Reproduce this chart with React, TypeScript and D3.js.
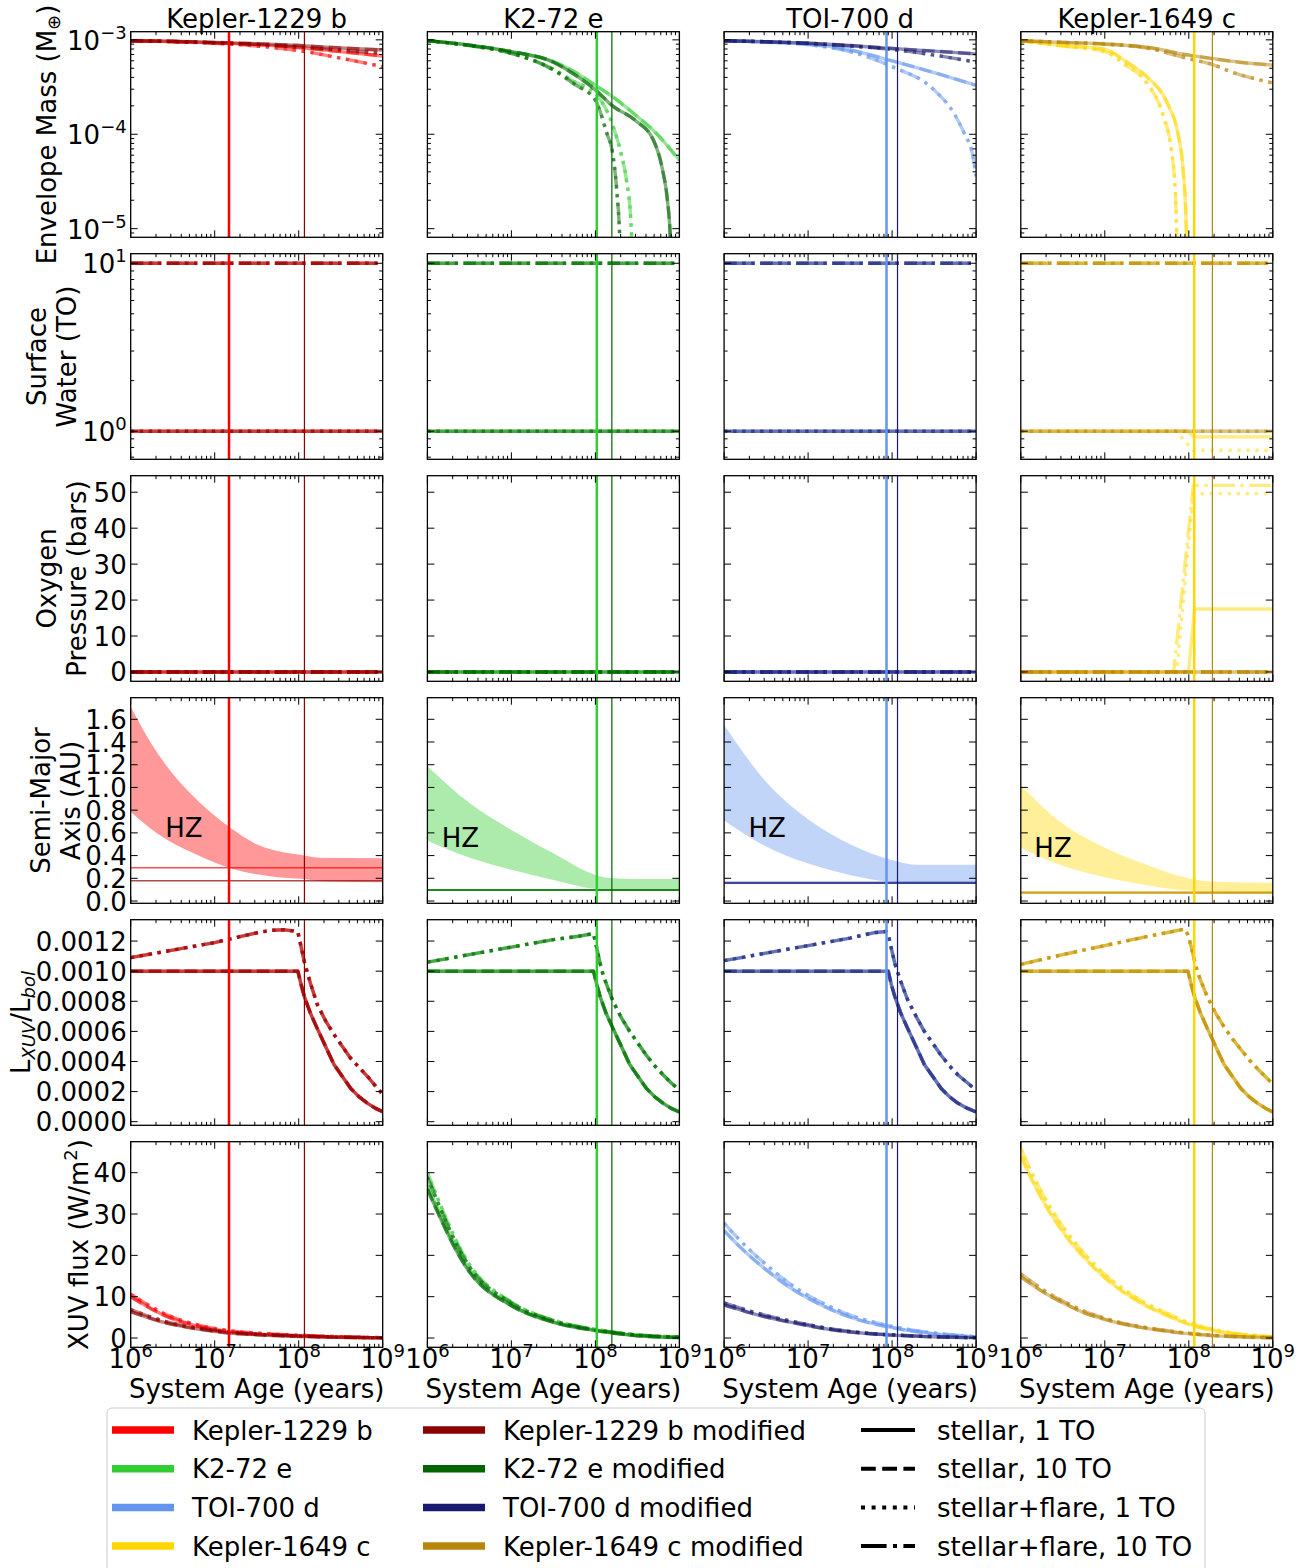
import * as d3 from "d3";

type Pt = [number, number];
type Run = { m: number; runs: number[]; pts: Pt[] };

const W = 1307;
const H = 1568;
const FONT = "DejaVu Sans, sans-serif";

// planets, colours (original / modified) and the four model runs
const planets = ["Kepler-1229 b", "K2-72 e", "TOI-700 d", "Kepler-1649 c"];
const baseColors = ["#ff0000", "#32cd32", "#6495ed", "#ffd700"];
const modColors = ["#8b0000", "#006400", "#191970", "#b8860b"];
const runLabels = ["stellar, 1 TO", "stellar, 10 TO", "stellar+flare, 1 TO", "stellar+flare, 10 TO"];

// vertical marker ages [original, modified] (years)
const markerAges: Pt[] = [[1.48e7, 1.17e8], [1.04e8, 1.57e8], [8.58e7, 1.16e8], [1.16e8, 1.91e8]];

// ---- envelope mass (M_earth) ----
const envK1229: Run[] = [
  { m: 0, runs: [0, 1], pts: [[1e6, 9.8e-4], [3.16e6, 9.6e-4], [1e7, 9.3e-4], [3.16e7, 8.9e-4], [1e8, 8.3e-4], [3.16e8, 7.5e-4], [1e9, 6.75e-4]] },
  { m: 0, runs: [2, 3], pts: [[1e6, 9.8e-4], [3.16e6, 9.55e-4], [1e7, 9.2e-4], [3.16e7, 8.6e-4], [1e8, 7.7e-4], [3.16e8, 6.4e-4], [1e9, 5.2e-4]] },
  { m: 1, runs: [0, 1], pts: [[1e6, 9.8e-4], [3.16e6, 9.65e-4], [1e7, 9.4e-4], [3.16e7, 9.1e-4], [1e8, 8.7e-4], [3.16e8, 8.2e-4], [1e9, 7.8e-4]] },
  { m: 1, runs: [2, 3], pts: [[1e6, 9.8e-4], [3.16e6, 9.6e-4], [1e7, 9.3e-4], [3.16e7, 8.95e-4], [1e8, 8.4e-4], [3.16e8, 7.8e-4], [1e9, 7.2e-4]] },
];
const envK272: Run[] = [
  { m: 0, runs: [0, 1], pts: [[1e6, 9.8e-4], [3.16e6, 8.8e-4], [1e7, 7.5e-4], [3.16e7, 5.9e-4], [5.6e7, 4.6e-4], [1e8, 3.3e-4], [1.6e8, 2.5e-4], [3e8, 1.6e-4], [5e8, 1.08e-4], [1e9, 5.3e-5]] },
  { m: 0, runs: [2, 3], pts: [[1e6, 9.8e-4], [3.16e6, 8.7e-4], [1e7, 7.2e-4], [3.16e7, 4.9e-4], [5.6e7, 3.6e-4], [1e8, 2.7e-4], [1.58e8, 1.3e-4], [2e8, 6.5e-5], [2.34e8, 3.3e-5], [2.63e8, 1.3e-5], [2.8e8, 4e-6]] },
  { m: 1, runs: [0, 1], pts: [[1e6, 9.8e-4], [3.16e6, 8.8e-4], [1e7, 7.5e-4], [3.16e7, 5.8e-4], [5.6e7, 4.3e-4], [1e8, 2.95e-4], [1.6e8, 2.0e-4], [3e8, 1.4e-4], [4.9e8, 8.7e-5], [6.3e8, 4.2e-5], [7.2e8, 2e-5], [7.8e8, 8e-6], [8.2e8, 2e-6]] },
  { m: 1, runs: [2, 3], pts: [[1e6, 9.8e-4], [3.16e6, 8.7e-4], [1e7, 7.2e-4], [3.16e7, 4.8e-4], [5.6e7, 3.4e-4], [1e8, 2.3e-4], [1.38e8, 1.0e-4], [1.58e8, 6.8e-5], [1.78e8, 2.8e-5], [1.95e8, 8e-6], [2.05e8, 2e-6]] },
];
const envTOI700: Run[] = [
  { m: 0, runs: [0, 1], pts: [[1e6, 9.8e-4], [3.16e6, 9.5e-4], [1e7, 9.0e-4], [3.16e7, 7.8e-4], [1e8, 6.0e-4], [3.16e8, 4.5e-4], [1e9, 3.3e-4]] },
  { m: 0, runs: [2, 3], pts: [[1e6, 9.8e-4], [3.16e6, 9.45e-4], [1e7, 8.9e-4], [3.16e7, 7.5e-4], [1e8, 5.2e-4], [3.16e8, 2.95e-4], [5.6e8, 1.6e-4], [7.2e8, 1.03e-4], [9.1e8, 6e-5], [1e9, 3.6e-5]] },
  { m: 1, runs: [0, 1], pts: [[1e6, 9.8e-4], [3.16e6, 9.55e-4], [1e7, 9.2e-4], [3.16e7, 8.7e-4], [1e8, 8.1e-4], [3.16e8, 7.6e-4], [1e9, 7.1e-4]] },
  { m: 1, runs: [2, 3], pts: [[1e6, 9.8e-4], [3.16e6, 9.55e-4], [1e7, 9.2e-4], [3.16e7, 8.6e-4], [1e8, 7.9e-4], [3.16e8, 6.9e-4], [1e9, 5.8e-4]] },
];
const envK1649: Run[] = [
  { m: 0, runs: [0, 1], pts: [[1e6, 9.8e-4], [3.16e6, 8.7e-4], [1e7, 7.95e-4], [1.78e7, 5.9e-4], [3.16e7, 4.07e-4], [5.6e7, 2.1e-4], [7.4e7, 1.03e-4], [8.5e7, 4.5e-5], [9.2e7, 1.5e-5], [9.6e7, 4e-6]] },
  { m: 0, runs: [2, 3], pts: [[1e6, 9.8e-4], [3.16e6, 8.6e-4], [1e7, 7.5e-4], [1.78e7, 5.4e-4], [3.16e7, 3.5e-4], [5e7, 1.54e-4], [6.2e7, 6.8e-5], [6.9e7, 2.5e-5], [7.2e7, 8e-6], [7.4e7, 2e-6]] },
  { m: 1, runs: [0, 1], pts: [[1e6, 9.8e-4], [3.16e6, 9.4e-4], [1e7, 9.05e-4], [3.16e7, 8.35e-4], [1e8, 6.9e-4], [2e8, 6.3e-4], [4e8, 5.8e-4], [1e9, 5.4e-4]] },
  { m: 1, runs: [2, 3], pts: [[1e6, 9.8e-4], [3.16e6, 9.4e-4], [1e7, 9.0e-4], [3.16e7, 8.2e-4], [1e8, 6.3e-4], [2e8, 5.4e-4], [3.16e8, 4.6e-4], [1e9, 3.5e-4]] },
];

// ---- surface water (TO) ----
const water1TO: Pt[] = [[1e6, 1], [1e9, 1]];
const water10TO: Pt[] = [[1e6, 10], [1e9, 10]];
const waterFlat: Run[] = [
  { m: 0, runs: [0, 2], pts: water1TO },
  { m: 0, runs: [1, 3], pts: water10TO },
  { m: 1, runs: [0, 2], pts: water1TO },
  { m: 1, runs: [1, 3], pts: water10TO },
];
const waterK1649: Run[] = [
  { m: 0, runs: [0], pts: [[1e6, 1], [9.6e7, 1], [1.15e8, 0.925], [1e9, 0.925]] },
  { m: 0, runs: [2], pts: [[1e6, 1], [7.1e7, 1], [1.12e8, 0.77], [1e9, 0.77]] },
  { m: 0, runs: [1, 3], pts: water10TO },
  { m: 1, runs: [0, 2], pts: water1TO },
  { m: 1, runs: [1, 3], pts: water10TO },
];

// ---- oxygen pressure (bars) ----
const oxygenNone: Pt[] = [[1e6, 0], [1e9, 0]];
const oxygenFlat: Run[] = [
  { m: 0, runs: [0, 1, 2, 3], pts: oxygenNone },
  { m: 1, runs: [0, 1, 2, 3], pts: oxygenNone },
];
const oxygenK1649: Run[] = [
  { m: 0, runs: [1], pts: oxygenNone },
  { m: 0, runs: [0], pts: [[1e6, 0], [9.9e7, 0], [1.17e8, 17.5], [1e9, 17.5]] },
  { m: 0, runs: [2], pts: [[1e6, 0], [7.2e7, 0], [1.13e8, 49.6], [1e9, 49.6]] },
  { m: 0, runs: [3], pts: [[1e6, 0], [6.6e7, 0], [1.13e8, 51.9], [1e9, 51.9]] },
  { m: 1, runs: [0, 1, 2, 3], pts: oxygenNone },
];

// ---- habitable zone (AU): [age, inner, outer] and orbits [original, modified] ----
const hzK1229: [number, number, number][] = [
  [1e6, 0.786, 1.71], [1.78e6, 0.63, 1.38], [3.16e6, 0.51, 1.12], [5.6e6, 0.42, 0.92], [1e7, 0.34, 0.75],
  [1.48e7, 0.293, 0.654], [3.16e7, 0.235, 0.5], [5.6e7, 0.21, 0.44], [1.17e8, 0.194, 0.4], [1.8e8, 0.175, 0.38], [1e9, 0.165, 0.376],
];
const hzK272: [number, number, number][] = [
  [1e6, 0.53, 1.187], [3.2e6, 0.38, 0.86], [1e7, 0.275, 0.625], [3.16e7, 0.185, 0.42], [1e8, 0.105, 0.23],
  [1.6e8, 0.092, 0.2], [3e8, 0.09, 0.195], [1e9, 0.09, 0.195],
];
const hzTOI700: [number, number, number][] = [
  [1e6, 0.71, 1.55], [3.16e6, 0.48, 1.05], [1e7, 0.33, 0.72], [3.16e7, 0.23, 0.5], [1e8, 0.165, 0.36],
  [2e8, 0.15, 0.32], [1e9, 0.15, 0.32],
];
const hzK1649: [number, number, number][] = [
  [1e6, 0.47, 1.02], [3.16e6, 0.31, 0.68], [1e7, 0.21, 0.47], [3.16e7, 0.14, 0.32], [1e8, 0.092, 0.2],
  [2e8, 0.08, 0.17], [1e9, 0.075, 0.16],
];
const orbits: Pt[] = [[0.293, 0.179], [0.097, 0.097], [0.16, 0.16], [0.074, 0.074]];
const hzLabelAt: Pt[] = [[2.57e6, 0.566], [1.48e6, 0.478], [1.95e6, 0.568], [1.45e6, 0.39]];

// ---- L_XUV / L_bol, same for original and modified ----
const lxuvStellarK1229: Pt[] = [
  [1e6, 0.001], [9.77e7, 0.001], [1.07e8, 0.00091], [1.17e8, 0.00083], [1.38e8, 0.00072], [1.66e8, 0.00062], [2.09e8, 0.0005],
  [2.63e8, 0.00038], [3.31e8, 0.0003], [4.17e8, 0.00022], [5.25e8, 0.000165], [6.61e8, 0.000122], [8.13e8, 0.00009], [1e9, 0.000066],
];
const lxuvFlareK1229: Pt[] = [
  [1e6, 0.00109], [3.16e6, 0.00114], [1e7, 0.00119], [2e7, 0.00123], [3.5e7, 0.00126], [5e7, 0.001272], [6.6e7, 0.001275],
  [8.5e7, 0.001268], [9.77e7, 0.00126], [1.07e8, 0.00116], [1.17e8, 0.00106], [1.26e8, 0.000995], [1.38e8, 0.00092], [1.66e8, 0.00078],
  [2.09e8, 0.00067], [2.63e8, 0.00058], [3.31e8, 0.0005], [4.17e8, 0.00042], [5.25e8, 0.00036], [6.61e8, 0.0003], [8.13e8, 0.00024], [1e9, 0.000182],
];
const lxuvStellarK272: Pt[] = [
  [1e6, 0.001], [9.5e7, 0.001], [1.04e8, 0.00091], [1.14e8, 0.00083], [1.34e8, 0.00072], [1.62e8, 0.00062], [2.04e8, 0.0005],
  [2.56e8, 0.00038], [3.22e8, 0.0003], [4.06e8, 0.00022], [5.1e8, 0.000165], [6.43e8, 0.000122], [7.9e8, 0.00009], [1e9, 0.000064],
];
const lxuvFlareK272: Pt[] = [
  [1e6, 0.00106], [3.16e6, 0.00111], [1e7, 0.00116], [3.16e7, 0.00121], [6e7, 0.00123], [9.5e7, 0.00125], [1.04e8, 0.00115],
  [1.14e8, 0.00105], [1.23e8, 0.00098], [1.34e8, 0.00092], [1.62e8, 0.0008], [2.04e8, 0.00069], [2.56e8, 0.0006], [3.22e8, 0.00052],
  [4.06e8, 0.00044], [5.1e8, 0.00037], [6.43e8, 0.00031], [7.9e8, 0.00026], [1e9, 0.00021],
];
const lxuvStellarTOI700: Pt[] = [
  [1e6, 0.001], [9e7, 0.001], [9.8e7, 0.00091], [1.08e8, 0.00083], [1.27e8, 0.00072], [1.53e8, 0.00062], [1.93e8, 0.0005],
  [2.42e8, 0.00038], [3.05e8, 0.0003], [3.84e8, 0.00022], [4.84e8, 0.000165], [6.1e8, 0.000122], [7.8e8, 0.00009], [1e9, 0.000064],
];
const lxuvFlareTOI700: Pt[] = [
  [1e6, 0.00107], [3.16e6, 0.00112], [1e7, 0.00117], [3.16e7, 0.00122], [6e7, 0.001255], [8.5e7, 0.001264], [9.2e7, 0.00122],
  [9.8e7, 0.00115], [1.08e8, 0.00105], [1.17e8, 0.00099], [1.27e8, 0.00093], [1.53e8, 0.00081], [1.93e8, 0.0007], [2.42e8, 0.0006],
  [3.05e8, 0.00052], [3.84e8, 0.00044], [4.84e8, 0.00037], [6.1e8, 0.00031], [7.8e8, 0.00026], [1e9, 0.00021],
];
const lxuvStellarK1649: Pt[] = [
  [1e6, 0.001], [9.77e7, 0.001], [1.07e8, 0.00091], [1.17e8, 0.00083], [1.38e8, 0.00072], [1.66e8, 0.00062], [2.09e8, 0.0005],
  [2.63e8, 0.00038], [3.31e8, 0.0003], [4.17e8, 0.00022], [5.25e8, 0.000165], [6.61e8, 0.000122], [8.13e8, 0.00009], [1e9, 0.000064],
];
const lxuvFlareK1649: Pt[] = [
  [1e6, 0.001045], [3.16e6, 0.00111], [1e7, 0.00117], [3.16e7, 0.00123], [6e7, 0.00126], [9e7, 0.00128], [9.8e7, 0.00124],
  [1.07e8, 0.00116], [1.17e8, 0.00107], [1.26e8, 0.001], [1.38e8, 0.00094], [1.66e8, 0.00083], [2.09e8, 0.00072], [2.63e8, 0.00063],
  [3.31e8, 0.00055], [4.17e8, 0.00048], [5.25e8, 0.00041], [6.61e8, 0.00035], [8.13e8, 0.0003], [1e9, 0.00025],
];

// ---- XUV flux (W/m^2) ----
const fluxK1229: Run[] = [
  { m: 0, runs: [0, 1], pts: [[1e6, 10.0], [2.7e6, 5.2], [6.8e6, 2.7], [1.48e7, 1.5], [3.16e7, 1.0], [1.17e8, 0.5], [3.16e8, 0.2], [1e9, 0.05]] },
  { m: 0, runs: [2, 3], pts: [[1e6, 10.6], [2.7e6, 5.6], [6.8e6, 3.0], [1.48e7, 1.8], [3.16e7, 1.2], [1.17e8, 0.6], [3.16e8, 0.3], [1e9, 0.1]] },
  { m: 1, runs: [0, 1], pts: [[1e6, 6.4], [2.7e6, 3.6], [6.8e6, 2.1], [1.48e7, 1.2], [3.16e7, 0.8], [1.17e8, 0.35], [3.16e8, 0.15], [1e9, 0.05]] },
  { m: 1, runs: [2, 3], pts: [[1e6, 6.9], [2.7e6, 3.9], [6.8e6, 2.3], [1.48e7, 1.4], [3.16e7, 0.9], [1.17e8, 0.45], [3.16e8, 0.2], [1e9, 0.08]] },
];
const fluxK272: Run[] = [
  { m: 0, runs: [0, 1], pts: [[1e6, 37], [3.16e6, 16.5], [1e7, 8], [3.16e7, 3.9], [1e8, 1.9], [3.16e8, 0.6], [1e9, 0.15]] },
  { m: 0, runs: [2, 3], pts: [[1e6, 40], [3.16e6, 17.8], [1e7, 8.7], [3.16e7, 4.3], [1e8, 2.1], [3.16e8, 0.8], [1e9, 0.25]] },
  { m: 1, runs: [0, 1], pts: [[1e6, 36], [3.16e6, 16], [1e7, 7.8], [3.16e7, 3.8], [1e8, 1.8], [3.16e8, 0.55], [1e9, 0.12]] },
  { m: 1, runs: [2, 3], pts: [[1e6, 39], [3.16e6, 17.3], [1e7, 8.5], [3.16e7, 4.2], [1e8, 2.0], [3.16e8, 0.75], [1e9, 0.22]] },
];
const fluxTOI700: Run[] = [
  { m: 0, runs: [0, 1], pts: [[1e6, 26], [1.5e6, 22.3], [2.2e6, 19.2], [3.5e6, 15.8], [5.9e6, 12.4], [1e7, 9.6], [1.78e7, 7.1], [3e7, 5.2], [5.6e7, 3.6], [1e8, 2.5], [3.16e8, 1.0], [1e9, 0.25]] },
  { m: 0, runs: [2, 3], pts: [[1e6, 27.8], [1.5e6, 23.9], [2.2e6, 20.6], [3.5e6, 17.0], [5.9e6, 13.3], [1e7, 10.3], [1.78e7, 7.7], [3e7, 5.7], [5.6e7, 4.0], [1e8, 2.8], [3.16e8, 1.2], [1e9, 0.35]] },
  { m: 1, runs: [0, 1], pts: [[1e6, 8.0], [1.5e6, 6.9], [2.2e6, 5.9], [3.5e6, 4.9], [5.9e6, 3.9], [1e7, 3.0], [1.78e7, 2.1], [3e7, 1.5], [5.6e7, 1.0], [1e8, 0.7], [3.16e8, 0.28], [1e9, 0.07]] },
  { m: 1, runs: [2, 3], pts: [[1e6, 8.5], [1.5e6, 7.35], [2.2e6, 6.3], [3.5e6, 5.25], [5.9e6, 4.2], [1e7, 3.25], [1.78e7, 2.3], [3e7, 1.65], [5.6e7, 1.1], [1e8, 0.78], [3.16e8, 0.33], [1e9, 0.1]] },
];
const fluxK1649: Run[] = [
  { m: 0, runs: [0, 1], pts: [[1e6, 44], [1.5e6, 36.5], [2.2e6, 30.5], [3.5e6, 24.5], [5.5e6, 19.8], [1e7, 14.6], [1.62e7, 11.3], [2.8e7, 8.3], [4.8e7, 6.0], [1.12e8, 3.0], [3.16e8, 1.1], [1e9, 0.25]] },
  { m: 0, runs: [2, 3], pts: [[1e6, 45.8], [1.5e6, 38.1], [2.2e6, 31.9], [3.5e6, 25.7], [5.5e6, 20.8], [1e7, 15.4], [1.62e7, 12.0], [2.8e7, 8.9], [4.8e7, 6.5], [1.12e8, 3.4], [3.16e8, 1.3], [1e9, 0.35]] },
  { m: 1, runs: [0, 1], pts: [[1e6, 14.8], [1.5e6, 12.3], [2.2e6, 10.2], [3.5e6, 8.1], [5.5e6, 6.2], [1e7, 4.5], [1.62e7, 3.4], [2.8e7, 2.5], [4.8e7, 1.8], [1.12e8, 0.95], [3.16e8, 0.35], [1e9, 0.06]] },
  { m: 1, runs: [2, 3], pts: [[1e6, 15.5], [1.5e6, 12.9], [2.2e6, 10.7], [3.5e6, 8.5], [5.5e6, 6.6], [1e7, 4.8], [1.62e7, 3.6], [2.8e7, 2.7], [4.8e7, 1.95], [1.12e8, 1.05], [3.16e8, 0.42], [1e9, 0.09]] },
];

// ---- axes ----
const ageTicks = [1e6, 1e7, 1e8, 1e9];
const envTicks = [1e-5, 1e-4, 1e-3];
const waterTicks = [1, 10];
const oxygenTicks = [0, 10, 20, 30, 40, 50];
const axisTicks = [0, 0.2, 0.4, 0.6, 0.8, 1.0, 1.2, 1.4, 1.6];
const lxuvTicks = [0, 0.0002, 0.0004, 0.0006, 0.0008, 0.001, 0.0012];
const fluxTicks = [0, 10, 20, 30, 40];

const lxuvRuns = (st: Pt[], fl: Pt[]): Run[] => [
  { m: 0, runs: [0, 1], pts: st }, { m: 0, runs: [2, 3], pts: fl },
  { m: 1, runs: [0, 1], pts: st }, { m: 1, runs: [2, 3], pts: fl },
];

const rowSpecs: any[] = [
  { log: true, domain: [8.1e-6, 1.22e-3], ticks: envTicks, data: [envK1229, envK272, envTOI700, envK1649], curve: d3.curveMonotoneX },
  { log: true, domain: [0.68, 11.4], ticks: waterTicks, data: [waterFlat, waterFlat, waterFlat, waterK1649], curve: d3.curveLinear },
  { log: false, domain: [-2.6, 54.6], ticks: oxygenTicks, fmt: (v: number) => String(v), data: [oxygenFlat, oxygenFlat, oxygenFlat, oxygenK1649], curve: d3.curveLinear },
  { log: false, domain: [-0.02, 1.79], ticks: axisTicks, fmt: (v: number) => v.toFixed(1), hz: [hzK1229, hzK272, hzTOI700, hzK1649] },
  { log: false, domain: [-0.000024, 0.001342], ticks: lxuvTicks, fmt: (v: number) => v.toFixed(4), curve: d3.curveLinear,
    data: [lxuvRuns(lxuvStellarK1229, lxuvFlareK1229), lxuvRuns(lxuvStellarK272, lxuvFlareK272), lxuvRuns(lxuvStellarTOI700, lxuvFlareTOI700), lxuvRuns(lxuvStellarK1649, lxuvFlareK1649)] },
  { log: false, domain: [-2.25, 47.5], ticks: fluxTicks, fmt: (v: number) => String(v), data: [fluxK1229, fluxK272, fluxTOI700, fluxK1649], curve: d3.curveMonotoneX },
];

const PX0 = 130.7, PSX = 296.7, PW = 252;
const PY0 = 31.7, PSY = 222, PH = 205.6;
const LW = 3.4;
const dashes = ["", `${3.7 * LW},${1.6 * LW}`, `${LW},${1.65 * LW}`, `${6.4 * LW},${1.6 * LW},${LW},${1.6 * LW}`];
const FS = 26;
const SUP = 18;

function logMinor(d0: number, d1: number) {
  const out: number[] = [];
  for (let k = Math.floor(Math.log10(d0)); k <= Math.ceil(Math.log10(d1)); k++) {
    for (let j = 2; j <= 9; j++) {
      const v = j * Math.pow(10, k);
      if (v >= d0 && v <= d1) out.push(v);
    }
  }
  return out;
}

function Panel({ r, c }: { r: number; c: number }) {
  const spec = rowSpecs[r];
  const left = PX0 + c * PSX;
  const top = PY0 + r * PSY;
  const right = left + PW;
  const bottom = top + PH;
  const x = d3.scaleLog().domain([1e6, 1e9]).range([left, right]);
  const y: any = (spec.log ? d3.scaleLog() : d3.scaleLinear()).domain(spec.domain).range([bottom, top]);
  const clipId = `clip-${r}-${c}`;
  const line = (pts: Pt[]) => d3.line<Pt>().x((d) => x(d[0])).y((d) => y(d[1])).curve(spec.curve || d3.curveLinear)(pts) || "";

  const xMinor = logMinor(1e6, 1e9);
  const yMinor = spec.log ? logMinor(spec.domain[0], spec.domain[1]) : [];
  const tick = (x1: number, y1: number, x2: number, y2: number, k: string) => (
    <line key={k} x1={x1} y1={y1} x2={x2} y2={y2} stroke="#000" strokeWidth={1} />
  );
  const ticks: any[] = [];
  ageTicks.forEach((a, i) => {
    const px = x(a);
    ticks.push(tick(px, bottom, px, bottom - 7, `xb${i}`), tick(px, top, px, top + 7, `xt${i}`));
  });
  xMinor.forEach((a, i) => {
    const px = x(a);
    ticks.push(tick(px, bottom, px, bottom - 3.5, `xmb${i}`), tick(px, top, px, top + 3.5, `xmt${i}`));
  });
  spec.ticks.forEach((v: number, i: number) => {
    const py = y(v);
    ticks.push(tick(left, py, left + 7, py, `yl${i}`), tick(right, py, right - 7, py, `yr${i}`));
  });
  yMinor.forEach((v: number, i: number) => {
    const py = y(v);
    ticks.push(tick(left, py, left + 3.5, py, `yml${i}`), tick(right, py, right - 3.5, py, `ymr${i}`));
  });

  const curves: any[] = [];
  if (spec.data) {
    spec.data[c].forEach((s: Run, si: number) => {
      const col = s.m === 0 ? baseColors[c] : modColors[c];
      const d = line(s.pts);
      s.runs.forEach((run) => {
        curves.push(
          <path key={`${si}-${run}`} d={d} fill="none" stroke={col} strokeOpacity={0.5} strokeWidth={LW}
            strokeDasharray={dashes[run] || undefined} strokeLinejoin="round" />
        );
      });
    });
  }
  let hzEls: any = null;
  if (spec.hz) {
    const rows = spec.hz[c];
    const area = d3.area<[number, number, number]>().x((d) => x(d[0])).y0((d) => y(d[1])).y1((d) => y(d[2])).curve(d3.curveMonotoneX);
    const [lx, ly] = hzLabelAt[c];
    hzEls = (
      <g>
        <path d={area(rows) || ""} fill={baseColors[c]} fillOpacity={0.4} />
        {orbits[c].map((a, i) => (
          <line key={i} x1={left} x2={right} y1={y(a)} y2={y(a)} stroke={i === 0 ? baseColors[c] : modColors[c]}
            strokeOpacity={0.7} strokeWidth={orbits[c][0] === orbits[c][1] ? 2.2 : 1.6} />
        ))}
        <text x={x(lx)} y={y(ly)} fontSize={FS}>HZ</text>
      </g>
    );
  }

  const fmtY = (v: number) => {
    if (spec.log) {
      const e = Math.round(Math.log10(v));
      return (
        <>
          10<tspan fontSize={SUP} dy={-11}>{e < 0 ? `\u2212${-e}` : `${e}`}</tspan>
        </>
      );
    }
    return spec.fmt(v);
  };

  return (
    <g>
      <defs>
        <clipPath id={clipId}>
          <rect x={left} y={top} width={PW} height={PH} />
        </clipPath>
      </defs>
      <g clipPath={`url(#${clipId})`}>
        {hzEls}
        {curves}
        {markerAges[c].map((a, i) => (
          <line key={`v${i}`} x1={x(a)} x2={x(a)} y1={top} y2={bottom} stroke={i === 0 ? baseColors[c] : modColors[c]}
            strokeWidth={i === 0 ? 2.5 : 1.2} />
        ))}
      </g>
      {ticks}
      <rect x={left} y={top} width={PW} height={PH} fill="none" stroke="#000" strokeWidth={1.3} />
      {c === 0 &&
        spec.ticks.map((v: number, i: number) => (
          <text key={`yl${i}`} x={left - 4} y={y(v) + (spec.log ? 10 : 9.5)} fontSize={FS} textAnchor="end">
            {fmtY(v)}
          </text>
        ))}
      {r === rowSpecs.length - 1 &&
        ageTicks.map((a, i) => (
          <text key={`xl${i}`} x={x(a)} y={bottom + 21} fontSize={FS} textAnchor="middle">
            10<tspan fontSize={SUP} dy={-11}>{Math.round(Math.log10(a))}</tspan>
          </text>
        ))}
      {r === 0 && (
        <text x={(left + right) / 2} y={top - 3.7} fontSize={FS} textAnchor="middle">{planets[c]}</text>
      )}
      {r === rowSpecs.length - 1 && (
        <text x={(left + right) / 2} y={1398} fontSize={FS} textAnchor="middle">System Age (years)</text>
      )}
    </g>
  );
}

function RowLabel({ r }: { r: number }) {
  const cy = PY0 + r * PSY + PH / 2;
  const rot = (bx: number, content: any, k: string) => (
    <text key={k} transform={`translate(${bx},${cy}) rotate(-90)`} textAnchor="middle" fontSize={FS}>{content}</text>
  );
  if (r === 0) return rot(55.5, <>Envelope Mass (M<tspan fontSize={SUP} dy={4}>⊕</tspan><tspan dy={-4}>)</tspan></>, "a");
  if (r === 1) return <g>{rot(45.5, "Surface", "a")}{rot(75.5, "Water (TO)", "b")}</g>;
  if (r === 2) return <g>{rot(56, "Oxygen", "a")}{rot(86, "Pressure (bars)", "b")}</g>;
  if (r === 3) return <g>{rot(50, "Semi-Major", "a")}{rot(80, "Axis (AU)", "b")}</g>;
  if (r === 4)
    return rot(30, <>L<tspan fontSize={SUP} fontStyle="italic" dy={5}>XUV</tspan><tspan dy={-5}>/L</tspan><tspan fontSize={SUP} fontStyle="italic" dy={5}>bol</tspan></>, "a");
  return rot(87.5, <>XUV flux (W/m<tspan fontSize={SUP} dy={-11}>2</tspan><tspan dy={11}>)</tspan></>, "a");
}

function Legend() {
  const rowY = [1430, 1468.7, 1507.4, 1546];
  const hx = [112, 423, 861];
  const tx = [192, 503, 937];
  const HL = 62;
  return (
    <g>
      <rect x={107} y={1408} width={1098} height={200} rx={5} fill="#fff" fillOpacity={0.8} stroke="#cccccc" strokeWidth={1} />
      {planets.map((p, i) => (
        <g key={`b${i}`}>
          <line x1={hx[0]} x2={hx[0] + HL} y1={rowY[i]} y2={rowY[i]} stroke={baseColors[i]} strokeWidth={7.5} />
          <text x={tx[0]} y={rowY[i] + 9.5} fontSize={FS}>{p}</text>
          <line x1={hx[1]} x2={hx[1] + HL} y1={rowY[i]} y2={rowY[i]} stroke={modColors[i]} strokeWidth={7.5} />
          <text x={tx[1]} y={rowY[i] + 9.5} fontSize={FS}>{p} modified</text>
        </g>
      ))}
      {runLabels.map((l, i) => (
        <g key={`s${i}`}>
          <line x1={hx[2]} x2={hx[2] + HL - 8} y1={rowY[i]} y2={rowY[i]} stroke="#000" strokeWidth={4}
            strokeDasharray={i === 0 ? undefined : i === 1 ? "14.8,6.4" : i === 2 ? "4,6.6" : "25.6,6.4,4,6.4"} />
          <text x={tx[2]} y={rowY[i] + 9.5} fontSize={FS}>{l}</text>
        </g>
      ))}
    </g>
  );
}

export default function App() {
  const panels: any[] = [];
  for (let r = 0; r < rowSpecs.length; r++) {
    for (let c = 0; c < planets.length; c++) panels.push(<Panel key={`${r}-${c}`} r={r} c={c} />);
  }
  return (
    <svg width={W} height={H} style={{ position: "absolute", left: 0, top: 0, background: "#fff" }} fontFamily={FONT}>
      <rect width={W} height={H} fill="#fff" />
      {panels}
      {rowSpecs.map((_, r) => <RowLabel key={r} r={r} />)}
      <Legend />
    </svg>
  );
}
